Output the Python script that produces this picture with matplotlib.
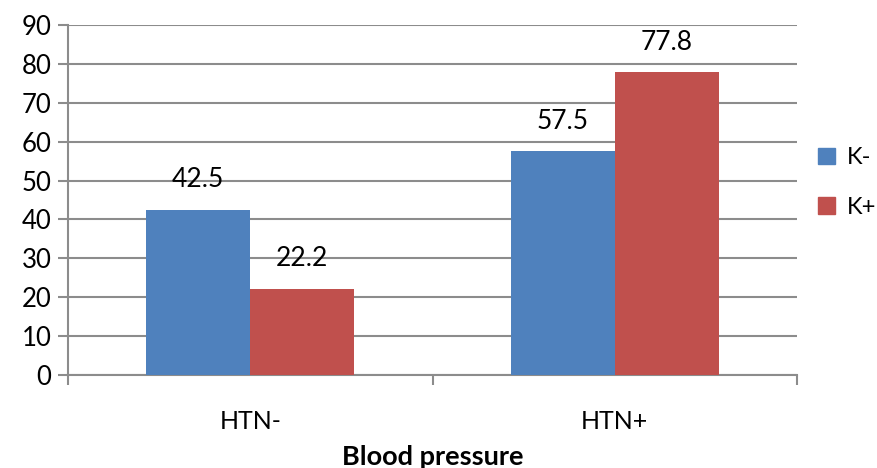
import numpy as np
import matplotlib.pyplot as plt
from matplotlib.patches import Patch

categories = ["HTN-", "HTN+"]
k_minus = [42.5, 57.5]
k_plus = [22.2, 77.8]
series_names = ["K-", "K+"]

blue = "#4f81bd"
red = "#c0504d"
grey = "#8c8c8c"

plt.rcParams['font.family'] = ['Lato', 'DejaVu Sans']

fig = plt.figure(figsize=(8.77, 4.68), dpi=100)
ax = fig.add_axes([68 / 877, 93 / 468, 729 / 877, 350 / 468])

x = np.arange(len(categories))
w = 0.285
b1 = ax.bar(x - w / 2, k_minus, w, color=blue, zorder=3)
b2 = ax.bar(x + w / 2, k_plus, w, color=red, zorder=3)

for bars, vals in [(b1, k_minus), (b2, k_plus)]:
    for bar, v in zip(bars, vals):
        ax.annotate(f"{v}", (bar.get_x() + bar.get_width() / 2, v),
                    xytext=(0, 21.5), textcoords="offset points",
                    ha="center", va="center", fontsize=19)

ax.set_xlim(-0.5, 1.5)
ax.set_ylim(0, 90)
ax.set_yticks(np.arange(0, 91, 10))
ax.yaxis.grid(True, color=grey, linewidth=1.5, zorder=0)
ax.set_xticks([-0.5, 0.5, 1.5])
ax.set_xticklabels([])
ax.set_xticks(x, minor=True)
ax.set_xticklabels(categories, minor=True, fontsize=18)
ax.tick_params(axis="x", which="minor", length=0, pad=25)
ax.tick_params(axis="x", which="major", length=7, width=1.5, color=grey)
ax.tick_params(axis="y", length=7, width=1.5, color=grey, labelsize=18.5, pad=5)

for s in ["top", "right"]:
    ax.spines[s].set_visible(False)
for s in ["left", "bottom"]:
    ax.spines[s].set_color(grey)
    ax.spines[s].set_linewidth(1.5)

ax.set_xlabel("Blood pressure", fontsize=19.5, fontweight="bold", labelpad=9)

handles = [Patch(color=blue), Patch(color=red)]
ax.legend(handles, series_names, loc="center left", bbox_to_anchor=(1.0, 0.55),
          frameon=False, fontsize=17, handlelength=0.7, handleheight=0.7,
          handletextpad=0.5, labelspacing=1.2)

fig.savefig("out.png", dpi=100)
